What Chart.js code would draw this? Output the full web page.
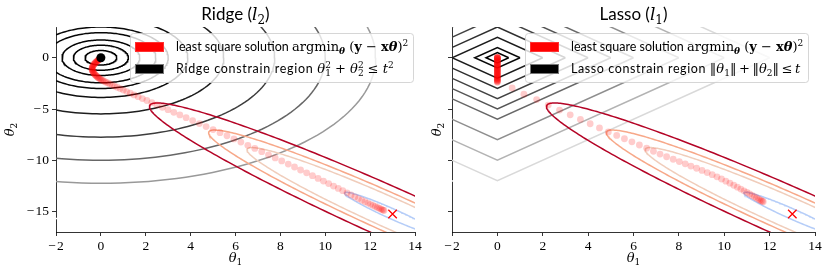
<!DOCTYPE html>
<html>
<head>
<meta charset="utf-8">
<script src="https://cdn.jsdelivr.net/npm/chart.js@4.4.1/dist/chart.umd.min.js"></script>
<style>
  html, body { margin: 0; padding: 0; background: #fff; }
  #wrap { position: relative; width: 830px; height: 276px; overflow: hidden; }
  canvas { position: absolute; top: 0; }
</style>
</head>
<body>
<div id="wrap">
  <canvas id="chart1" width="430" height="276" style="left:0;width:430px;height:276px"></canvas>
  <canvas id="chart2" width="415" height="276" style="left:415px;width:415px;height:276px"></canvas>
</div>
<script>
var xTicks = [-2, 0, 2, 4, 6, 8, 10, 12, 14];
var yTicks = [-15, -10, -5, 0];
var xRange = [-2, 14];
var yRange = [-17, 3];

// contour levels of the penalty terms
var ridgeLevels = [0.5, 1.5, 3, 6, 9, 15, 30, 60, 100, 150, 250];  // theta1^2 + theta2^2
var lassoLevels = [0.5, 1, 2, 3, 4, 5, 6, 8, 10, 12, 14];          // |theta1| + |theta2|

// least square cost contours, ellipses round the OLS solution
var lsSolution = [13, -15.25];
var lossLevels = [0.06, 0.09, 0.11, 0.15];
var lossSemiMajor = [3.0, 9.1, 11.5, 15.2];
var lossSemiMinor = [0.39, 1.17, 1.47, 1.95];
var lossAngle = 135;
var lossColors = ['#b5cdf8', '#f0cdbb', '#f7a889', '#b40426'];

// regularized solutions for a range of lambda
var ridgePath = [
    [0, 0], [-0.015, -0.03], [-0.03, -0.06], [-0.045, -0.09], [-0.06, -0.12], [-0.075, -0.15],
    [-0.09, -0.18], [-0.105, -0.21], [-0.12, -0.24], [-0.14, -0.28], [-0.16, -0.32], [-0.18, -0.36],
    [-0.2, -0.4], [-0.22, -0.44], [-0.24, -0.48], [-0.26, -0.53], [-0.28, -0.58], [-0.3, -0.63],
    [-0.32, -0.68], [-0.34, -0.74], [-0.355, -0.8], [-0.37, -0.86], [-0.38, -0.92], [-0.39, -0.98],
    [-0.395, -1.04], [-0.395, -1.1], [-0.39, -1.16], [-0.385, -1.22], [-0.375, -1.28], [-0.36, -1.34],
    [-0.345, -1.4], [-0.33, -1.46], [-0.31, -1.52], [-0.29, -1.58], [-0.265, -1.64], [-0.24, -1.7],
    [-0.21, -1.76], [-0.18, -1.82], [-0.15, -1.88], [-0.12, -1.94], [-0.08, -2.0], [-0.04, -2.06],
    [0.0, -2.12], [0.05, -2.18], [0.1, -2.24], [0.16, -2.31], [0.23, -2.38], [0.31, -2.46],
    [0.4, -2.55], [0.5, -2.65], [0.61, -2.76], [0.73, -2.88], [0.86, -3.01], [1.0, -3.15],
    [1.15, -3.3], [1.31, -3.46], [1.48, -3.63], [1.66, -3.8], [1.85, -3.98], [2.05, -4.17],
    [2.27, -4.38], [2.5, -4.6], [2.74, -4.83], [2.99, -5.07], [3.25, -5.32], [3.52, -5.58],
    [3.8, -5.85], [4.09, -6.13], [4.39, -6.42], [4.69, -6.71], [5.0, -7.01], [5.31, -7.31],
    [5.62, -7.61], [5.93, -7.92], [6.24, -8.23], [6.55, -8.54], [6.86, -8.85], [7.17, -9.16],
    [7.47, -9.47], [7.77, -9.77], [8.06, -10.07], [8.35, -10.37], [8.63, -10.66], [8.9, -10.95],
    [9.17, -11.23], [9.43, -11.5], [9.68, -11.77], [9.92, -12.03], [10.15, -12.28], [10.37, -12.52],
    [10.58, -12.75], [10.78, -12.97], [10.97, -13.18], [11.15, -13.38], [11.32, -13.57], [11.48, -13.74],
    [11.63, -13.9], [11.77, -14.05], [11.9, -14.18], [12.02, -14.3], [12.13, -14.41], [12.23, -14.51],
    [12.32, -14.6], [12.4, -14.68], [12.47, -14.75], [12.53, -14.81], [12.58, -14.86], [12.62, -14.9]
];

var lassoPath = [
    [0, 0], [0, 0], [0, 0], [0, 0], [0, 0], [0, 0],
    [0, -0.04], [0, -0.09], [0, -0.14], [0, -0.19], [0, -0.24], [0, -0.29], [0, -0.34], [0, -0.39],
    [0, -0.44], [0, -0.49], [0, -0.54], [0, -0.59], [0, -0.64], [0, -0.69], [0, -0.74], [0, -0.79],
    [0, -0.84], [0, -0.89], [0, -0.94], [0, -0.99], [0, -1.04], [0, -1.09], [0, -1.14], [0, -1.19],
    [0, -1.24], [0, -1.29], [0, -1.34], [0, -1.39], [0, -1.44], [0, -1.49], [0, -1.54], [0, -1.59],
    [0, -1.64], [0, -1.69], [0, -1.74], [0, -1.79], [0, -1.84], [0, -1.89], [0, -1.94], [0, -1.99],
    [0, -2.04], [0, -2.09], [0, -2.14], [0, -2.19], [0, -2.24], [0, -2.29], [0, -2.34], [0, -2.39],
    [0.65, -2.95], [1.17, -3.55], [1.73, -4.08], [2.24, -4.62], [2.74, -5.1], [3.21, -5.57],
    [3.66, -6.02], [4.09, -6.44], [4.5, -6.85], [4.89, -7.24], [5.26, -7.58], [5.6, -7.9],
    [5.93, -8.2], [6.26, -8.51], [6.58, -8.82], [6.88, -9.12], [7.17, -9.4], [7.46, -9.66],
    [7.75, -9.9], [8.02, -10.13], [8.28, -10.35], [8.53, -10.57], [8.78, -10.78], [9.02, -10.99],
    [9.25, -11.2], [9.47, -11.41], [9.68, -11.62], [9.88, -11.83], [10.07, -12.04], [10.25, -12.24],
    [10.42, -12.44], [10.58, -12.63], [10.73, -12.81], [10.87, -12.98], [11.0, -13.14], [11.12, -13.29],
    [11.23, -13.43], [11.33, -13.56], [11.42, -13.68], [11.5, -13.78], [11.57, -13.87], [11.63, -13.94],
    [11.68, -14.0], [11.72, -14.05]
];

var SANS = 'Lato, "DejaVu Sans", sans-serif';
var SERIF = '"DejaVu Serif", serif';
var TICKFONT = '"Liberation Serif", serif';

function toXY(p) {
    return { x: p[0], y: p[1] };
}

function circlePts(r) {
    var pts = [];
    for (var a = 0; a <= 360; a += 2) {
        var t = a * Math.PI / 180;
        pts.push({ x: r * Math.cos(t), y: r * Math.sin(t) });
    }
    return pts;
}

function diamondPts(t) {
    return [{ x: t, y: 0 }, { x: 0, y: t }, { x: -t, y: 0 }, { x: 0, y: -t }, { x: t, y: 0 }];
}

function ellipsePts(c, A, B, deg) {
    var ca = Math.cos(deg * Math.PI / 180), sa = Math.sin(deg * Math.PI / 180);
    var pts = [];
    for (var a = 0; a <= 360; a += 1) {
        var t = a * Math.PI / 180;
        var u = A * Math.cos(t), v = B * Math.sin(t);
        pts.push({ x: c[0] + u * ca - v * sa, y: c[1] + u * sa + v * ca });
    }
    return pts;
}

// gist_gray colormap over the level range
function grey(level, levels) {
    var v = (level - levels[0]) / (levels[levels.length - 1] - levels[0]);
    var g = Math.round(v * 255);
    return 'rgb(' + g + ',' + g + ',' + g + ')';
}

function buildDatasets(kind) {
    var ds = [];
    var levels = kind === 'ridge' ? ridgeLevels : lassoLevels;
    levels.forEach(function (L) {
        ds.push({
            data: kind === 'ridge' ? circlePts(Math.sqrt(L)) : diamondPts(L),
            showLine: true, borderColor: grey(L, levels), borderWidth: 1.5, pointRadius: 0
        });
    });
    lossLevels.forEach(function (L, i) {
        ds.push({
            data: ellipsePts(lsSolution, lossSemiMajor[i], lossSemiMinor[i], lossAngle),
            showLine: true, borderColor: lossColors[i], borderWidth: 1.5, pointRadius: 0
        });
    });
    var path = kind === 'ridge' ? ridgePath : lassoPath;
    ds.push({
        data: path.map(toXY), pointRadius: 3.4,
        backgroundColor: 'rgba(255,0,0,0.2)', borderWidth: 0
    });
    if (kind === 'ridge') {
        ds.push({ data: [{ x: 0, y: 0 }], pointRadius: 4.5, backgroundColor: '#000', borderWidth: 0 });
    }
    ds.push({
        data: [toXY(lsSolution)], pointStyle: 'crossRot', pointRadius: 6,
        borderColor: '#ff0000', borderWidth: 1.3
    });
    // first dataset is drawn on top in Chart.js
    return ds.reverse();
}

function drawRich(ctx, runs, x, y, align) {
    var w = 0;
    runs.forEach(function (r) {
        ctx.font = r.f;
        ctx.letterSpacing = '0px';
        r.w = r.keep ? 0 : ctx.measureText(r.t).width + (r.ls || 0) * r.t.length;
        w += r.w;
    });
    var cx = align === 'center' ? x - w / 2 : x;
    runs.forEach(function (r) {
        ctx.font = r.f;
        ctx.letterSpacing = (r.ls || 0) + 'px';
        ctx.fillText(r.t, cx, y + (r.dy || 0));
        cx += r.w;
    });
    ctx.letterSpacing = '0px';
}

function legendRuns(kind) {
    var s = '12.5px ' + SANS, m = '13px ' + SERIF, mi = 'italic 13px ' + SERIF;
    var sm = '9px ' + SERIF, b = 'bold 13px ' + SERIF, bi = 'bold italic 13px ' + SERIF;
    var line1 = [
        { t: 'least square solution ', f: s }, { t: 'argmin', f: m },
        { t: '\u03b8', f: 'bold italic 9px ' + SERIF, dy: 3 }, { t: ' (', f: m }, { t: 'y', f: b },
        { t: ' \u2212 ', f: m }, { t: 'x', f: b }, { t: '\u03b8', f: bi }, { t: ')', f: m },
        { t: '2', f: sm, dy: -5 }
    ];
    var line2;
    if (kind === 'ridge') {
        line2 = [
            { t: 'Ridge constrain region ', f: s, ls: 0.7 }, { t: '\u03b8', f: mi },
            { t: '2', f: sm, dy: -5, keep: true }, { t: '1', f: sm, dy: 3 }, { t: ' + ', f: m },
            { t: '\u03b8', f: mi }, { t: '2', f: sm, dy: -5, keep: true }, { t: '2', f: sm, dy: 3 },
            { t: ' \u2264 ', f: m }, { t: 't', f: mi }, { t: '2', f: sm, dy: -5 }
        ];
    } else {
        line2 = [
            { t: 'Lasso constrain region ', f: s, ls: 0.6 }, { t: '\u2016', f: m }, { t: '\u03b8', f: mi },
            { t: '1', f: sm, dy: 3 }, { t: '\u2016\u2009+\u2009\u2016', f: m }, { t: '\u03b8', f: mi },
            { t: '2', f: sm, dy: 3 }, { t: '\u2016\u2009\u2264\u2009', f: m }, { t: 't', f: mi }
        ];
    }
    return [line1, line2];
}

function textPlugin(kind, opt) {
    return {
        id: 'texts' + kind,
        afterDraw: function (chart) {
            var ctx = chart.ctx, a = chart.chartArea;
            var mid = (a.left + a.right) / 2;
            ctx.save();
            ctx.fillStyle = '#000';
            ctx.textBaseline = 'alphabetic';
            var name = kind === 'ridge' ? 'Ridge (' : 'Lasso (';
            drawRich(ctx, [
                { t: name, f: '17px ' + SANS }, { t: 'l', f: 'italic 17px ' + SERIF },
                { t: kind === 'ridge' ? '2' : '1', f: '12px ' + SERIF, dy: 4 }, { t: ')', f: '17px ' + SANS }
            ], mid, 20, 'center');
            drawRich(ctx, [{ t: '\u03b8', f: 'italic 13px ' + SERIF }, { t: '1', f: '9px ' + SERIF, dy: 3 }],
                mid, 262, 'center');
            ctx.save();
            ctx.translate(opt.yLabelX, (a.top + a.bottom) / 2);
            ctx.rotate(-Math.PI / 2);
            drawRich(ctx, [{ t: '\u03b8', f: 'italic 13px ' + SERIF }, { t: '2', f: '9px ' + SERIF, dy: 3 }],
                0, 0, 'center');
            ctx.restore();

            // legend
            var bx = opt.legendX, by = 33, bw = 283, bh = 49;
            ctx.beginPath();
            if (ctx.roundRect) ctx.roundRect(bx + 0.5, by + 0.5, bw, bh, 3); else ctx.rect(bx + 0.5, by + 0.5, bw, bh);
            ctx.fillStyle = 'rgba(255,255,255,0.8)';
            ctx.fill();
            ctx.strokeStyle = 'rgba(204,204,204,0.8)';
            ctx.lineWidth = 1;
            ctx.stroke();
            ctx.fillStyle = '#ff0000';
            ctx.fillRect(bx + 5, by + 9, 29, 10);
            ctx.strokeStyle = 'rgba(255,80,80,0.6)';
            ctx.strokeRect(bx + 5.5, by + 9.5, 28, 9);
            ctx.fillStyle = '#000';
            ctx.fillRect(bx + 5, by + 31, 29, 10);
            ctx.strokeStyle = '#777';
            ctx.strokeRect(bx + 5.5, by + 31.5, 28, 9);
            ctx.fillStyle = '#000';
            var lines = legendRuns(kind);
            drawRich(ctx, lines[0], bx + 46, by + 18, 'left');
            drawRich(ctx, lines[1], bx + 46, by + 40, 'left');
            ctx.restore();
        }
    };
}

function tickText(v) {
    return v < 0 ? '\u2212\u200a' + Math.abs(v) : String(v);
}

function makeChart(id, kind, opt) {
    var ctx = document.getElementById(id).getContext('2d');
    return new Chart(ctx, {
        type: 'scatter',
        data: { datasets: buildDatasets(kind) },
        options: {
            responsive: false,
            maintainAspectRatio: false,
            animation: false,
            devicePixelRatio: 1,
            events: [],
            layout: { padding: { left: 0, right: opt.padRight, top: 27, bottom: 0 } },
            plugins: { legend: { display: false }, tooltip: { enabled: false }, title: { display: false } },
            scales: {
                x: {
                    type: 'linear', min: xRange[0], max: xRange[1],
                    afterBuildTicks: function (scale) {
                        scale.ticks = xTicks.map(function (v) { return { value: v }; });
                    },
                    afterFit: function (scale) { scale.height = 44; },
                    ticks: {
                        color: '#000', padding: 2, maxRotation: 0, autoSkip: false,
                        font: { family: TICKFONT, size: 13.5 },
                        callback: tickText
                    },
                    grid: { drawOnChartArea: false, drawTicks: true, tickLength: 4, tickWidth: 0.8, tickColor: '#000' },
                    border: { display: true, color: '#000', width: 0.8 }
                },
                y: {
                    type: 'linear', min: yRange[0], max: yRange[1],
                    afterBuildTicks: function (scale) {
                        scale.ticks = yTicks.map(function (v) { return { value: v }; });
                    },
                    afterFit: function (scale) { scale.width = opt.yWidth; },
                    ticks: {
                        display: opt.yLabels, color: '#000', padding: 3, autoSkip: false,
                        font: { family: TICKFONT, size: 13.5 },
                        callback: tickText
                    },
                    grid: { drawOnChartArea: false, drawTicks: true, tickLength: 4, tickWidth: 0.8, tickColor: '#000' },
                    border: { display: true, color: '#000', width: 0.8 }
                }
            }
        },
        plugins: [textPlugin(kind, opt)]
    });
}

makeChart('chart1', 'ridge', { padRight: 15, yWidth: 56, yLabels: true, yLabelX: 14, legendX: 130 });
makeChart('chart2', 'lasso', { padRight: 15, yWidth: 37, yLabels: false, yLabelX: 26, legendX: 110 });
</script>
</body>
</html>
